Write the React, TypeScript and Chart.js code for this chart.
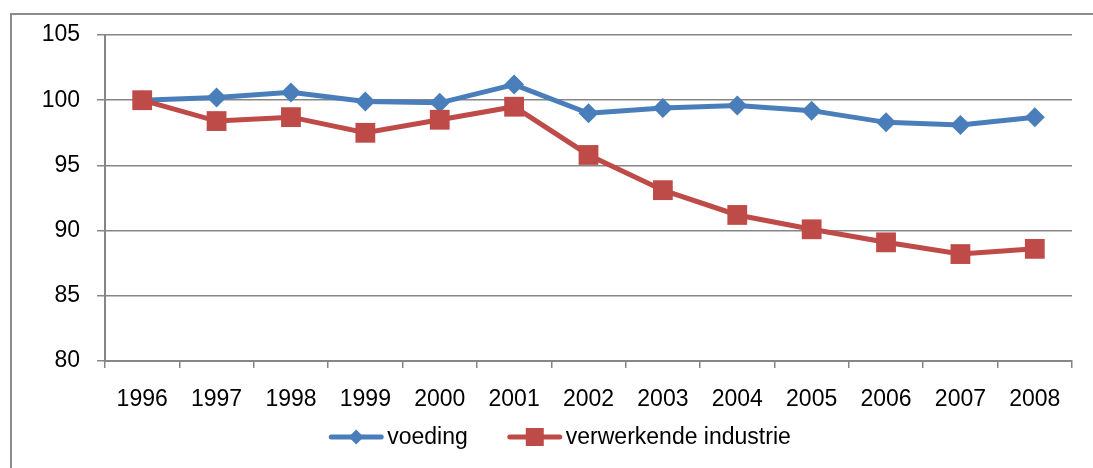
import React, { useEffect, useRef } from 'react';
import { Chart, registerables } from 'chart.js';

Chart.register(...registerables);

const years = ['1996', '1997', '1998', '1999', '2000', '2001', '2002', '2003', '2004', '2005', '2006', '2007', '2008'];
const voeding = [100, 100.2, 100.6, 99.9, 99.8, 101.2, 99.0, 99.4, 99.6, 99.2, 98.3, 98.1, 98.7];
const verwerkendeIndustrie = [100, 98.4, 98.7, 97.5, 98.5, 99.5, 95.8, 93.1, 91.2, 90.1, 89.1, 88.2, 88.6];
const seriesNames = ['voeding', 'verwerkende industrie'];
const yMin = 80;
const yMax = 105;
const yStep = 5;

const BLUE = '#4A7EBB';
const RED = '#BE4B48';
const GRID = '#868686';
const FONT = "'Liberation Sans Narrow', 'Arial Narrow', 'Liberation Sans', Arial, sans-serif";
const FONT_SIZE = 23;

const framePlugin = {
  id: 'frame',
  beforeDraw(chart: any) {
    const ctx = chart.ctx;
    ctx.save();
    ctx.fillStyle = '#ffffff';
    ctx.fillRect(0, 0, chart.width, chart.height);
    ctx.strokeStyle = '#8c8c8c';
    ctx.lineWidth = 2;
    ctx.beginPath();
    ctx.moveTo(11, chart.height + 2);
    ctx.lineTo(11, 14);
    ctx.lineTo(chart.width + 2, 14);
    ctx.stroke();
    ctx.restore();
  },
};

const legendPlugin = {
  id: 'customLegend',
  afterDraw(chart: any) {
    const ctx = chart.ctx;
    ctx.save();
    ctx.font = `${FONT_SIZE}px ${FONT}`;
    const lineLen = 54;
    const gapText = 4;
    const gapItems = 40;
    const items = chart.data.datasets.map((ds: any) => ({
      label: ds.label,
      color: ds.borderColor,
      style: ds.pointStyle,
      w: ctx.measureText(ds.label).width,
    }));
    items.sort((a: any, b: any) => seriesNames.indexOf(a.label) - seriesNames.indexOf(b.label));
    const total = items.reduce((s: number, it: any) => s + lineLen + gapText + it.w, 0) + gapItems * (items.length - 1);
    let x = 560 - total / 2;
    const y = 437;
    for (const it of items) {
      ctx.strokeStyle = it.color;
      ctx.lineWidth = 5;
      ctx.lineCap = 'round';
      ctx.beginPath();
      ctx.moveTo(x + 2, y);
      ctx.lineTo(x + lineLen - 2, y);
      ctx.stroke();
      const cx = x + lineLen / 2;
      ctx.fillStyle = it.color;
      ctx.beginPath();
      if (it.style === 'rectRot') {
        const r = 7.5;
        ctx.moveTo(cx - r, y);
        ctx.lineTo(cx, y - r);
        ctx.lineTo(cx + r, y);
        ctx.lineTo(cx, y + r);
        ctx.closePath();
      } else {
        const s = 9;
        ctx.rect(cx - s, y - s, 2 * s, 2 * s);
      }
      ctx.fill();
      ctx.fillStyle = '#000000';
      ctx.textAlign = 'left';
      ctx.textBaseline = 'middle';
      ctx.fillText(it.label, x + lineLen + gapText, y + 1);
      x += lineLen + gapText + it.w + gapItems;
    }
    ctx.restore();
  },
};

export default function App() {
  const ref = useRef<HTMLCanvasElement | null>(null);

  useEffect(() => {
    if (!ref.current) return;
    const chart = new Chart(ref.current, {
      type: 'line',
      data: {
        labels: years,
        datasets: [
          {
            label: seriesNames[1],
            data: verwerkendeIndustrie,
            borderColor: RED,
            backgroundColor: RED,
            borderWidth: 5,
            pointStyle: 'rect',
            pointRadius: 14,
            pointBorderWidth: 0,
            pointBackgroundColor: RED,
            tension: 0,
            order: 0,
          },
          {
            label: seriesNames[0],
            data: voeding,
            borderColor: BLUE,
            backgroundColor: BLUE,
            borderWidth: 5,
            pointStyle: 'rectRot',
            pointRadius: 10,
            pointBorderWidth: 0,
            pointBackgroundColor: BLUE,
            tension: 0,
            order: 1,
          },
        ],
      },
      options: {
        animation: false,
        responsive: false,
        events: [],
        layout: { padding: { top: 35, right: 21, left: 0, bottom: 0 } },
        plugins: {
          legend: { display: false },
          tooltip: { enabled: false },
          title: { display: false },
        },
        scales: {
          x: {
            type: 'category',
            offset: true,
            grid: {
              offset: true,
              drawOnChartArea: false,
              drawTicks: true,
              tickLength: 7,
              color: GRID,
              lineWidth: 1.5,
            },
            border: { display: true, color: GRID, width: 2 },
            ticks: {
              color: '#000000',
              font: { family: FONT, size: FONT_SIZE },
              padding: 18,
              maxRotation: 0,
              autoSkip: false,
            },
            afterFit(scale: any) {
              scale.height = 107;
            },
          },
          y: {
            min: yMin,
            max: yMax,
            grid: {
              drawTicks: true,
              tickLength: 8,
              color: GRID,
              lineWidth: 1.5,
            },
            border: { display: true, color: GRID, width: 2 },
            ticks: {
              stepSize: yStep,
              color: '#000000',
              font: { family: FONT, size: FONT_SIZE },
              padding: 17,
            },
            afterFit(scale: any) {
              scale.width = 105;
            },
          },
        },
      },
      plugins: [framePlugin, legendPlugin],
    });
    return () => chart.destroy();
  }, []);

  return (
    <div style={{ position: 'absolute', left: 0, top: 0, width: 1093, height: 468 }}>
      <canvas ref={ref} width={1093} height={468} style={{ display: 'block' }} />
    </div>
  );
}
